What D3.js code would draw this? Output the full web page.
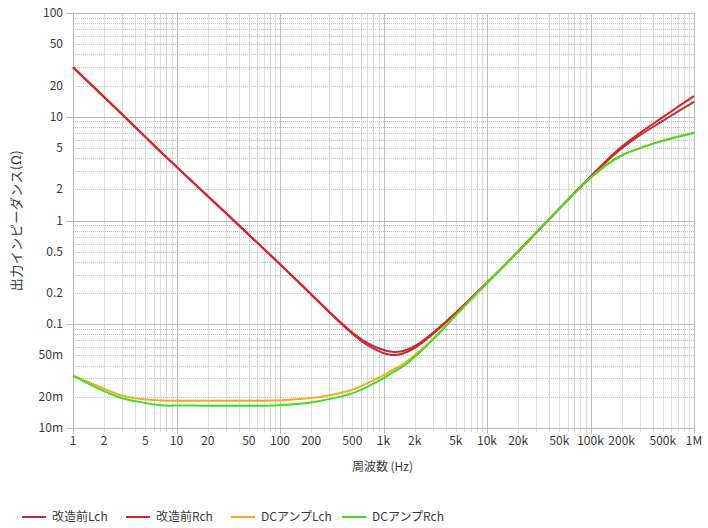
<!doctype html>
<html>
  <style>
    body { margin: 0; background-color: #fff; }
    text { font-family: "Noto Sans CJK JP", "Liberation Sans", sans-serif; fill: #3a3a3a; }
  </style>
  <body>
  <script src="https://cdn.jsdelivr.net/npm/d3@7"></script>
  <script>
    var width = 708,
        height = 528;

    // frequency points (Hz) and impedance readings (ohm)
    var freqs   = [1, 2, 3, 5, 7, 10, 20, 30, 50, 70, 100, 200, 300, 500, 700, 1000, 1200, 1500, 2000, 3000, 5000, 7000, 10000, 20000, 30000, 50000, 70000, 100000, 150000, 200000, 300000, 500000, 700000, 1000000];
    var beforeL = [30, 15.5, 10.5, 6.4, 4.6, 3.3, 1.72, 1.18, 0.73, 0.53, 0.38, 0.195, 0.13, 0.082, 0.065, 0.056, 0.054, 0.054, 0.060, 0.082, 0.128, 0.178, 0.25, 0.5, 0.77, 1.3, 1.85, 2.65, 3.9, 5.0, 6.7, 9.1, 11.3, 13.9];
    var beforeR = [30, 15.5, 10.5, 6.4, 4.6, 3.3, 1.72, 1.18, 0.73, 0.53, 0.38, 0.195, 0.13, 0.080, 0.062, 0.052, 0.050, 0.051, 0.058, 0.080, 0.128, 0.178, 0.25, 0.5, 0.77, 1.3, 1.85, 2.65, 4.0, 5.2, 7.0, 9.9, 12.5, 15.8];
    var dcampL  = [0.032, 0.024, 0.020, 0.0188, 0.0183, 0.0183, 0.0183, 0.0183, 0.0183, 0.0183, 0.0184, 0.0193, 0.0205, 0.023, 0.027, 0.032, 0.036, 0.040, 0.050, 0.071, 0.123, 0.173, 0.25, 0.5, 0.77, 1.3, 1.85, 2.6, 3.6, 4.3, 5.0, 5.9, 6.4, 7.0];
    var dcampR  = [0.032, 0.0224, 0.019, 0.0175, 0.0163, 0.0165, 0.0164, 0.0164, 0.0164, 0.0164, 0.0165, 0.0174, 0.019, 0.0213, 0.025, 0.030, 0.034, 0.038, 0.048, 0.070, 0.123, 0.173, 0.25, 0.5, 0.77, 1.3, 1.85, 2.6, 3.6, 4.3, 5.0, 5.9, 6.4, 7.0];

    var seriesNames = ['改造前Lch', '改造前Rch', 'DCアンプLch', 'DCアンプRch'];
    var seriesColors = ['#b3303c', '#e81c1c', '#f7a823', '#3ee01c'];
    var seriesValues = [beforeL, beforeR, dcampL, dcampR];

    var xTicks = [1, 2, 5, 10, 20, 50, 100, 200, 500, 1000, 2000, 5000, 10000, 20000, 50000, 100000, 200000, 500000, 1000000];
    var xTickLabels = ['1', '2', '5', '10', '20', '50', '100', '200', '500', '1k', '2k', '5k', '10k', '20k', '50k', '100k', '200k', '500k', '1M'];
    var yTicks = [100, 50, 20, 10, 5, 2, 1, 0.5, 0.2, 0.1, 0.05, 0.02, 0.01];
    var yTickLabels = ['100', '50', '20', '10', '5', '2', '1', '0.5', '0.2', '0.1', '50m', '20m', '10m'];

    var margin = {left: 73, right: 14, top: 13, bottom: 100};

    var svg = d3.select('body').append('svg')
        .attr('width', width)
        .attr('height', height);

    var x = d3.scaleLog().domain([1, 1e6]).range([margin.left, width - margin.right]);
    var y = d3.scaleLog().domain([0.01, 100]).range([height - margin.bottom, margin.top]);

    // minor / major grid positions
    var xMinor = [], yMinor = [];
    for (var e = 0; e < 6; e++) for (var m = 2; m <= 9; m++) xMinor.push(m * Math.pow(10, e));
    for (var e2 = -2; e2 < 2; e2++) for (var m2 = 2; m2 <= 9; m2++) yMinor.push(m2 * Math.pow(10, e2));
    var xMajor = d3.range(0, 7).map(function (d) { return Math.pow(10, d); });
    var yMajor = d3.range(-2, 3).map(function (d) { return Math.pow(10, d); });

    var grid = svg.append('g');

    grid.selectAll('.vminor').data(xMinor).enter().append('line')
        .attr('x1', function (d) { return Math.round(x(d)) + 0.5; })
        .attr('x2', function (d) { return Math.round(x(d)) + 0.5; })
        .attr('y1', y(100)).attr('y2', y(0.01) + 4)
        .attr('stroke', '#dcdcdc').attr('stroke-width', 1);

    grid.selectAll('.hminor').data(yMinor).enter().append('line')
        .attr('y1', function (d) { return Math.round(y(d)) + 0.5; })
        .attr('y2', function (d) { return Math.round(y(d)) + 0.5; })
        .attr('x1', x(1)).attr('x2', x(1e6))
        .attr('stroke', '#c4c4c4').attr('stroke-width', 1)
        .attr('stroke-dasharray', '1,1');

    grid.selectAll('.vmajor').data(xMajor).enter().append('line')
        .attr('x1', function (d) { return Math.round(x(d)) + 0.5; })
        .attr('x2', function (d) { return Math.round(x(d)) + 0.5; })
        .attr('y1', y(100)).attr('y2', y(0.01) + 6)
        .attr('stroke', '#bdbdbd').attr('stroke-width', 1);

    grid.selectAll('.hmajor').data(yMajor).enter().append('line')
        .attr('y1', function (d) { return Math.round(y(d)) + 0.5; })
        .attr('y2', function (d) { return Math.round(y(d)) + 0.5; })
        .attr('x1', x(1) - 7).attr('x2', x(1e6))
        .attr('stroke', '#bdbdbd').attr('stroke-width', 1);

    // axes
    svg.append('line')
        .attr('x1', Math.round(x(1)) + 0.5).attr('x2', Math.round(x(1)) + 0.5)
        .attr('y1', y(100)).attr('y2', y(0.01))
        .attr('stroke', '#bbb');
    svg.append('line')
        .attr('x1', x(1)).attr('x2', x(1e6))
        .attr('y1', Math.round(y(0.01)) + 0.5).attr('y2', Math.round(y(0.01)) + 0.5)
        .attr('stroke', '#bbb');

    svg.append('g').selectAll('text').data(xTicks).enter().append('text')
        .attr('x', function (d) { return x(d); })
        .attr('y', y(0.01) + 17)
        .attr('text-anchor', 'middle')
        .attr('font-size', 12)
        .text(function (d, i) { return xTickLabels[i]; });

    svg.append('g').selectAll('text').data(yTicks).enter().append('text')
        .attr('x', x(1) - 10)
        .attr('y', function (d) { return y(d) + 4; })
        .attr('text-anchor', 'end')
        .attr('font-size', 12)
        .text(function (d, i) { return yTickLabels[i]; });

    // axis titles
    svg.append('text')
        .attr('x', x(1000) - 1)
        .attr('y', y(0.01) + 43)
        .attr('text-anchor', 'middle')
        .attr('font-size', 12)
        .text('周波数 (Hz)');

    svg.append('text')
        .attr('transform', 'translate(21,' + ((y(100) + y(0.01)) / 2) + ') rotate(-90)')
        .attr('text-anchor', 'middle')
        .attr('font-size', 13)
        .attr('letter-spacing', 0.5)
        .text('出力インピーダンス(Ω)');

    // curves
    var line = d3.line()
        .curve(d3.curveBasis)
        .x(function (d) { return x(d[0]); })
        .y(function (d) { return y(d[1]); });

    svg.append('g').selectAll('path').data(seriesValues).enter().append('path')
        .attr('d', function (vals) { return line(freqs.map(function (f, i) { return [f, vals[i]]; })); })
        .attr('fill', 'none')
        .attr('stroke', function (d, i) { return seriesColors[i]; })
        .attr('stroke-width', 2);

    // legend
    var legendX = [22, 126, 231, 342];
    var legend = svg.append('g').selectAll('g').data(seriesNames).enter().append('g')
        .attr('transform', function (d, i) { return 'translate(' + legendX[i] + ',517)'; });
    legend.append('line')
        .attr('x1', 0).attr('x2', 24)
        .attr('stroke', function (d, i) { return seriesColors[i]; })
        .attr('stroke-width', 2);
    legend.append('text')
        .attr('x', 30).attr('y', 4)
        .attr('font-size', 12)
        .text(function (d) { return d; });
  </script>
  </body>
</html>
